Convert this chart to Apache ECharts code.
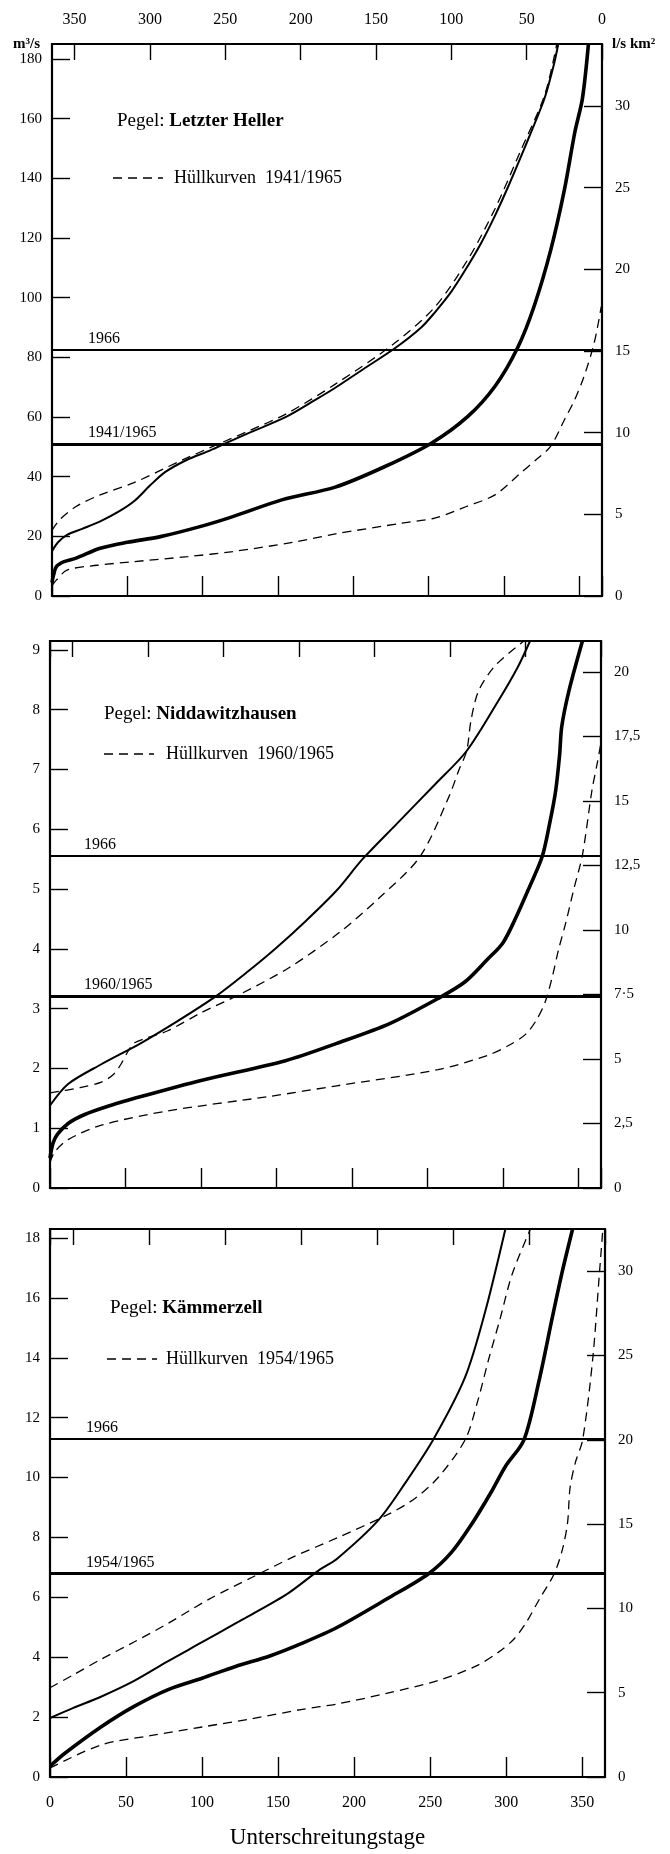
<!DOCTYPE html>
<html>
<head>
<meta charset="utf-8">
<script src="https://cdn.jsdelivr.net/npm/echarts@6/dist/echarts.min.js"></script>
<style>
html,body{margin:0;padding:0;background:#fff;}
#c{width:670px;height:1854px;}
</style>
</head>
<body>
<div id="c"></div>
<script>
// ---------- data (x = Unterschreitungstage, y = m³/s) ----------
const dayLabels = ['0','50','100','150','200','250','300','350'];

// Pegel Letzter Heller
const lhYear1966 = [[0,15],[4,18],[10,20.5],[20,22.5],[32,25],[45,28.5],[55,32],[65,37],[75,41.5],[89,45.5],[105,48.8],[118,51.8],[130,54.5],[156,60.2],[175,65.8],[188,69.8],[205,75.5],[228,83.2],[245,90],[254,95],[265,102],[276,110.7],[285,118.5],[294,127.5],[303,137.5],[311,147],[320,158],[327,167],[333,178],[336,185]];
const lhPeriod = [[0,4.5],[1,7],[3,9.9],[8,11.5],[16,12.7],[32,16],[50,18],[72,19.9],[100,23.5],[120,26.6],[153,32.3],[188,36.5],[221,43.4],[252,51.3],[276,60.2],[294,70.3],[309,83.2],[320,97.2],[331,116],[340,136],[347,155.5],[352,166.7],[356,185]];
const lhUpper = [[0,22],[5,25.5],[16,30],[32,33.9],[54,37.9],[87,45.7],[109,50.6],[130,55.2],[156,61.2],[188,71],[227,84.6],[254,96.8],[276,112.8],[294,129.8],[311,149.2],[327,168],[335,185]];
const lhLower = [[0,3.5],[3,5.4],[10,8.7],[30,10.3],[54,11.5],[90,13.2],[120,14.9],[160,18],[188,20.8],[232,24.4],[254,26.1],[275,30],[294,33.9],[311,41.2],[322,46],[331,50.2],[340,59],[347,65.9],[353,73.5],[359,83.2],[362,90],[364.5,97]];
const lhLines = [{name:'1966', value:82.5}, {name:'1941/1965', value:51}];
const lhLeftLabels = ['0','20','40','60','80','100','120','140','160','180'];
const lhRightLabels = ['0','5','10','15','20','25','30'];

// Pegel Niddawitzhausen
const ndYear1966 = [[0,1.38],[12,1.74],[34,2.07],[60,2.42],[85,2.8],[110,3.21],[130,3.6],[150,4.02],[170,4.48],[190,4.98],[207,5.5],[230,6.1],[255,6.75],[276,7.31],[297,8.15],[310,8.72],[318,9.15]];
const ndPeriod = [[0,0.5],[2,0.75],[5,0.9],[12,1.08],[23,1.23],[40,1.38],[56,1.5],[100,1.8],[156,2.13],[190,2.42],[225,2.75],[257,3.17],[275,3.45],[290,3.83],[300,4.1],[308,4.49],[317,5.0],[326,5.54],[331,6.1],[335,6.65],[337.6,7.25],[339,7.72],[343.8,8.32],[352.7,9.15]];
const ndUpper = [[0,1.59],[20,1.68],[34,1.77],[42,1.9],[47,2.07],[52,2.3],[56,2.43],[78,2.63],[100,2.93],[125,3.23],[158,3.68],[192,4.28],[218,4.85],[245,5.54],[264,6.53],[271,7.0],[276,7.31],[279,7.84],[284,8.32],[295,8.74],[314,9.15]];
const ndLower = [[0,0.42],[3,0.6],[12,0.81],[34,1.05],[78,1.29],[145,1.53],[190,1.71],[257,1.98],[290,2.22],[305,2.4],[315,2.57],[322,2.8],[328,3.11],[332.7,3.53],[337,4.0],[341.6,4.43],[347,5.0],[352.7,5.57],[359,6.65],[362.7,7.13],[365,7.45]];
const ndLines = [{name:'1966', value:5.56}, {name:'1960/1965', value:3.21}];
const ndLeftLabels = ['0','1','2','3','4','5','6','7','8','9'];
const ndRightLabels = ['0','2,5','5','7·5','10','12,5','15','17,5','20'];

// Pegel Kämmerzell
const kzYear1966 = [[0,1.97],[15,2.3],[33.5,2.68],[55,3.2],[77.7,3.87],[100,4.5],[122,5.13],[155,6.08],[177,6.91],[189,7.3],[216,8.58],[233,9.77],[252,11.26],[273,13.35],[286,15.5],[299.5,18.3]];
const kzPeriod = [[0,0.36],[10,0.8],[33.5,1.67],[55,2.35],[77.7,2.92],[100,3.3],[122,3.69],[145,4.05],[166,4.47],[189,5.0],[222,5.96],[249,6.79],[264,7.5],[277.5,8.46],[290,9.5],[299.5,10.37],[311.7,11.26],[321.6,13.23],[330.5,15.38],[337,16.9],[343.7,18.3]];
const kzUpper = [[0,2.98],[15,3.4],[33.5,3.93],[55,4.5],[77.7,5.13],[105,5.95],[133,6.67],[160,7.35],[189,7.99],[222,8.76],[240,9.3],[255.4,10.01],[273,11.26],[281,12.5],[288.5,13.95],[296,15.3],[304,16.8],[316,18.3]];
const kzLower = [[0,0.3],[33.5,1.07],[66,1.38],[100,1.67],[133,1.95],[166,2.26],[189,2.44],[222,2.8],[255,3.22],[280,3.7],[295,4.17],[305,4.6],[312.8,5.13],[322,5.95],[331.6,6.79],[337,7.6],[340.4,8.5],[342,9.65],[345.5,10.5],[350.3,11.26],[356.9,13.95],[361.3,16.8],[363.6,18.3]];
const kzLines = [{name:'1966', value:11.3}, {name:'1954/1965', value:6.8}];
const kzLeftLabels = ['0','2','4','6','8','10','12','14','16','18'];
const kzRightLabels = ['0','5','10','15','20','25','30'];

// ---------- layout / style ----------
const FONT = '"Liberation Serif", "DejaVu Serif", serif';
const DAYS_MAX = 365;
const panels = [
  {grid:{left:52, top:44, width:550, height:552}, yMax:185, yInt:20, rMax:33.8, rInt:5,
   left:lhLeftLabels, right:lhRightLabels, top:true, bottomLabels:false,
   thin:lhYear1966, thick:lhPeriod, up:lhUpper, low:lhLower, lines:lhLines, lineLabelDist:[36,3]},
  {grid:{left:50, top:641, width:551, height:547}, yMax:9.15, yInt:1, rMax:21.2, rInt:2.5,
   left:ndLeftLabels, right:ndRightLabels, top:false, bottomLabels:false,
   thin:ndYear1966, thick:ndPeriod, up:ndUpper, low:ndLower, lines:ndLines, lineLabelDist:[34,3]},
  {grid:{left:50, top:1229, width:555, height:548}, yMax:18.3, yInt:2, rMax:32.5, rInt:5,
   left:kzLeftLabels, right:kzRightLabels, top:false, bottomLabels:true,
   thin:kzYear1966, thick:kzPeriod, up:kzUpper, low:kzLower, lines:kzLines, lineLabelDist:[36,3]}
];

const grids = [], xAxes = [], yAxes = [], series = [];
const tickStyle = {color:'#000', width:1.4};
const noLine = {show:false, onZero:false};
panels.forEach((p, i) => {
  grids.push(Object.assign({show:true, borderColor:'#000', borderWidth:2.2, backgroundColor:'transparent'}, p.grid));
  // bottom x axis (Unterschreitungstage)
  xAxes.push({
    gridIndex:i, type:'value', position:'bottom', min:0, max:DAYS_MAX, interval:50,
    axisLine:noLine, splitLine:{show:false},
    axisTick:{show:true, inside:true, length:20, lineStyle:tickStyle},
    axisLabel:{show:p.bottomLabels, margin:18, color:'#000', fontFamily:FONT, fontSize:16, showMaxLabel:false,
      formatter:(v, idx) => dayLabels[idx] !== undefined ? dayLabels[idx] : ''},
    name: p.bottomLabels ? 'Unterschreitungstage' : '',
    nameLocation:'middle', nameGap:49,
    nameTextStyle:{color:'#000', fontFamily:FONT, fontSize:23}
  });
  // top x axis (reversed day count)
  xAxes.push({
    gridIndex:i, type:'value', position:'top', inverse:true, min:0, max:DAYS_MAX, interval:50,
    axisLine:noLine, splitLine:{show:false},
    axisTick:{show:true, inside:true, length:16, lineStyle:tickStyle},
    axisLabel:{show:p.top, margin:16, color:'#000', fontFamily:FONT, fontSize:16, showMaxLabel:false,
      formatter:(v, idx) => dayLabels[idx] !== undefined ? dayLabels[idx] : ''}
  });
  // left y axis m³/s
  yAxes.push({
    gridIndex:i, type:'value', position:'left', min:0, max:p.yMax, interval:p.yInt,
    axisLine:noLine, splitLine:{show:false},
    axisTick:{show:true, inside:true, length:18, lineStyle:tickStyle},
    axisLabel:{margin:10, color:'#000', fontFamily:FONT, fontSize:15, showMaxLabel:false,
      formatter:(v, idx) => p.left[idx] !== undefined ? p.left[idx] : ''}
  });
  // right y axis l/s km²
  yAxes.push({
    gridIndex:i, type:'value', position:'right', min:0, max:p.rMax, interval:p.rInt,
    axisLine:noLine, splitLine:{show:false},
    axisTick:{show:true, inside:true, length:18, lineStyle:tickStyle},
    axisLabel:{margin:13, color:'#000', fontFamily:FONT, fontSize:15, showMaxLabel:false,
      formatter:(v, idx) => p.right[idx] !== undefined ? p.right[idx] : ''}
  });
  const xi = i * 2, yi = i * 2;
  const base = {type:'line', xAxisIndex:xi, yAxisIndex:yi, showSymbol:false, symbol:'none',
    smooth:0.3, clip:true, silent:true, animation:false};
  series.push(Object.assign({}, base, {name:'Hüllkurve oben', data:p.up,
    lineStyle:{color:'#000', width:1.3, type:[9,6]}}));
  series.push(Object.assign({}, base, {name:'Hüllkurve unten', data:p.low,
    lineStyle:{color:'#000', width:1.3, type:[9,6]}}));
  series.push(Object.assign({}, base, {name:'1966', data:p.thin,
    lineStyle:{color:'#000', width:2}}));
  series.push(Object.assign({}, base, {name:p.lines[1].name, data:p.thick,
    lineStyle:{color:'#000', width:3.6},
    markLine:{
      silent:true, symbol:'none', animation:false,
      label:{show:true, position:'insideStartTop', distance:p.lineLabelDist, formatter:'{b}',
        color:'#000', fontFamily:FONT, fontSize:16},
      data:[
        {name:p.lines[0].name, yAxis:p.lines[0].value, lineStyle:{color:'#000', width:2, type:'solid'}},
        {name:p.lines[1].name, yAxis:p.lines[1].value, lineStyle:{color:'#000', width:3.2, type:'solid'}}
      ]
    }}));
});

// ---------- annotations ----------
const txt = (x, y, style) => ({type:'text', x, y, silent:true, style:Object.assign({fill:'#000', font:'15px ' + FONT}, style)});
const pegel = (x, y, name) => txt(x, y, {
  text:'{n|Pegel: }{b|' + name + '}', textVerticalAlign:'middle',
  rich:{n:{fontFamily:FONT, fontSize:19, fill:'#000'}, b:{fontFamily:FONT, fontSize:19, fontWeight:'bold', fill:'#000'}}
});
const legendLine = (x, y) => ({type:'line', silent:true, shape:{x1:x, y1:y, x2:x+50, y2:y},
  style:{stroke:'#000', lineWidth:1.4, lineDash:[9,6]}});
const legendText = (x, y, years) => txt(x, y, {text:'Hüllkurven  ' + years, font:'18px ' + FONT, textVerticalAlign:'middle'});

const graphic = [
  txt(13, 37, {text:'m³/s', font:'bold 15px ' + FONT}),
  txt(612, 37, {text:'l/s km²', font:'bold 15px ' + FONT}),
  pegel(117, 121, 'Letzter Heller'),
  legendLine(113, 178), legendText(174, 178, '1941/1965'),
  pegel(104, 714, 'Niddawitzhausen'),
  legendLine(104, 754), legendText(166, 754, '1960/1965'),
  pegel(110, 1308, 'Kämmerzell'),
  legendLine(107, 1359), legendText(166, 1359, '1954/1965')
];

const chart = echarts.init(document.getElementById('c'), null, {renderer:'canvas'});
chart.setOption({
  animation:false,
  backgroundColor:'#fff',
  grid:grids, xAxis:xAxes, yAxis:yAxes, series:series, graphic:graphic
});
</script>
</body>
</html>
